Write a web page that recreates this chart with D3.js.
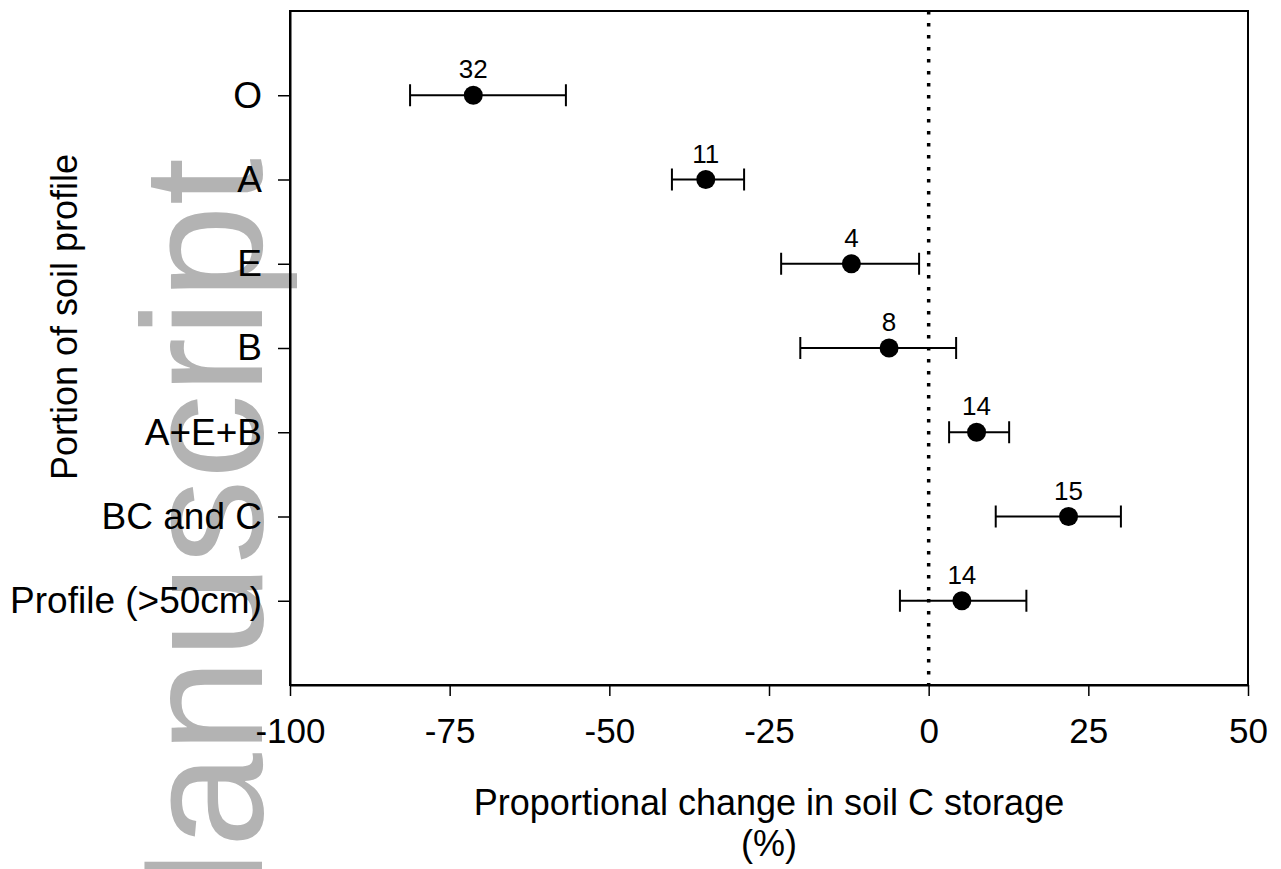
<!DOCTYPE html>
<html>
<head>
<meta charset="utf-8">
<script src="https://cdn.jsdelivr.net/npm/d3@7"></script>
<style>
  body { margin: 0; background: #fff; }
  text { font-family: "Liberation Sans", Arial, sans-serif; fill: #000; }
</style>
</head>
<body>
<svg id="chart" width="1281" height="869"></svg>
<script>
// soil horizons, top to bottom
var horizons = ["O", "A", "E", "B", "A+E+B", "BC and C", "Profile (>50cm)"];
// mean proportional change (%)
var means = [-71.3, -34.9, -12.1, -6.2, 7.5, 21.9, 5.2];
// lower / upper ends of the error bars (%)
var lows = [-81.2, -40.2, -23.1, -20.1, 3.2, 10.5, -4.5];
var highs = [-56.8, -28.9, -1.5, 4.3, 12.6, 30.1, 15.3];
// number of studies
var counts = [32, 11, 4, 8, 14, 15, 14];
var xTicks = [-100, -75, -50, -25, 0, 25, 50];

var svg = d3.select("#chart");
// note: "top" is taken by window.top, so prefix these
var plotL = 290, plotR = 1248, plotT = 11, plotB = 685;

var x = d3.scaleLinear().domain([-100, 50]).range([plotL, plotR]);
var y = d3.scalePoint().domain(horizons).range([plotT, plotB]).padding(1);

// grey "Manuscript" watermark sits behind everything
svg.append("text")
  .attr("transform", "translate(262,158) rotate(-90)")
  .attr("text-anchor", "end")
  .style("font-size", "170px")
  .style("fill", "#b3b3b3")
  .text("Manuscript");

// frame
svg.append("rect")
  .attr("x", plotL).attr("y", plotT)
  .attr("width", plotR - plotL).attr("height", plotB - plotT)
  .attr("fill", "none").attr("stroke", "#000").attr("stroke-width", 2);

// x axis
var xAxis = svg.append("g")
  .attr("transform", "translate(0," + plotB + ")")
  .call(d3.axisBottom(x).tickValues(xTicks).tickSize(11).tickSizeOuter(0).tickPadding(22)
    .tickFormat(function(d) { return String(d); }));
xAxis.select(".domain").attr("stroke-width", 2);
xAxis.selectAll(".tick line").attr("stroke-width", 1.5);
xAxis.selectAll("text").style("font-size", "35px").attr("font-family", null);

// y axis
var yAxis = svg.append("g")
  .attr("transform", "translate(" + plotL + ",0)")
  .call(d3.axisLeft(y).tickSize(12).tickSizeOuter(0).tickPadding(16));
yAxis.select(".domain").attr("stroke-width", 2);
yAxis.selectAll(".tick line").attr("stroke-width", 1.5);
yAxis.selectAll("text").style("font-size", "37px").attr("font-family", null);

// dotted zero line
svg.append("line")
  .attr("x1", x(0)).attr("x2", x(0))
  .attr("y1", plotT).attr("y2", plotB)
  .attr("stroke", "#000").attr("stroke-width", 3.5)
  .attr("stroke-dasharray", "3.5,8.5");

var rows = horizons.map(function(h, i) {
  return { h: h, m: means[i], lo: lows[i], hi: highs[i], n: counts[i] };
});

var g = svg.append("g");
var row = g.selectAll("g.row").data(rows).enter().append("g").attr("class", "row");

row.append("line")
  .attr("x1", function(d) { return x(d.lo); })
  .attr("x2", function(d) { return x(d.hi); })
  .attr("y1", function(d) { return y(d.h); })
  .attr("y2", function(d) { return y(d.h); })
  .attr("stroke", "#000").attr("stroke-width", 1.8);

["lo", "hi"].forEach(function(k) {
  row.append("line")
    .attr("x1", function(d) { return x(d[k]); })
    .attr("x2", function(d) { return x(d[k]); })
    .attr("y1", function(d) { return y(d.h) - 11; })
    .attr("y2", function(d) { return y(d.h) + 11; })
    .attr("stroke", "#000").attr("stroke-width", 2);
});

row.append("circle")
  .attr("cx", function(d) { return x(d.m); })
  .attr("cy", function(d) { return y(d.h); })
  .attr("r", 9.5)
  .attr("fill", "#000");

row.append("text")
  .attr("x", function(d) { return x(d.m); })
  .attr("y", function(d) { return y(d.h) - 17; })
  .attr("text-anchor", "middle")
  .style("font-size", "26px")
  .text(function(d) { return d.n; });

// axis titles
svg.append("text")
  .attr("x", (plotL + plotR) / 2).attr("y", 815)
  .attr("text-anchor", "middle")
  .style("font-size", "36px")
  .text("Proportional change in soil C storage");
svg.append("text")
  .attr("x", (plotL + plotR) / 2).attr("y", 856)
  .attr("text-anchor", "middle")
  .style("font-size", "36px")
  .text("(%)");

svg.append("text")
  .attr("transform", "translate(77,317) rotate(-90)")
  .attr("text-anchor", "middle")
  .style("font-size", "36px")
  .text("Portion of soil profile");
</script>
</body>
</html>
